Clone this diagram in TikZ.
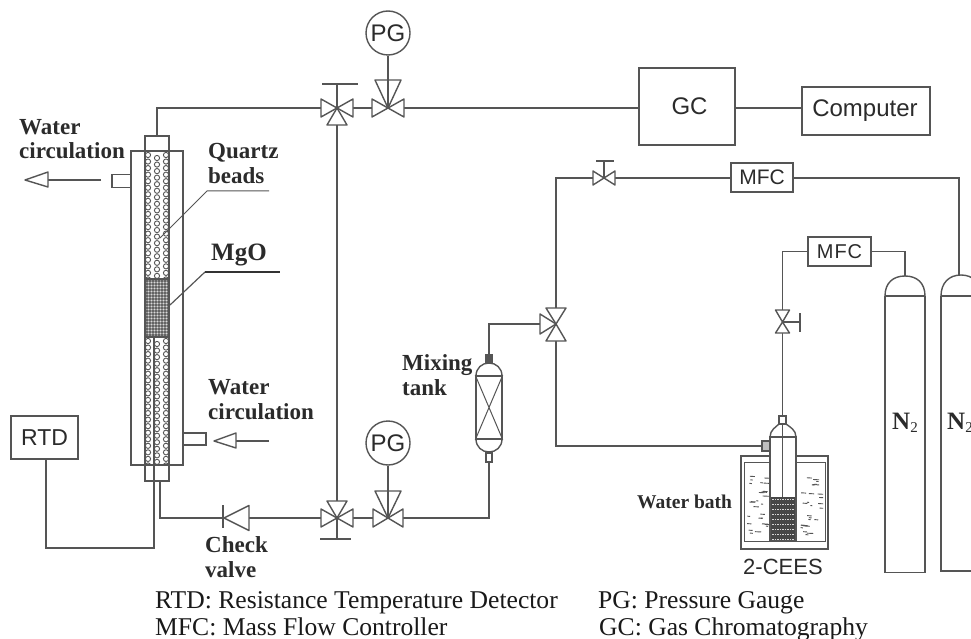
\documentclass[tikz,border=0pt]{standalone}
\usepackage{fontspec}
\setmainfont{Liberation Serif}
\newfontfamily\arialf{Liberation Sans}
\definecolor{ln}{HTML}{555555}
\definecolor{tx}{HTML}{2B2B2B}
\tikzset{
  pipe/.style={draw=ln,line width=1.4pt},
  box/.style={pipe,rectangle,inner sep=0pt,fill=none},
  blabel/.style={inner sep=0pt,text=tx,anchor=base west,align=left,font=\fontsize{23}{24.5}\selectfont\bfseries},
  slabel/.style={inner sep=0pt,text=tx,font=\arialf\fontsize{24}{24}\selectfont},
  legend/.style={inner sep=0pt,text=black!90,anchor=base west,font=\fontsize{25.6}{28}\selectfont},
  gauge/.style={pipe,circle,inner sep=0pt,minimum size=44pt,slabel},
  triang/.style={pipe,fill=white,line join=round},
}
\newcommand{\triH}[3]{\draw[triang] (#1) -- ++(#2,#3) -- ++(0,-2*#3) -- cycle;}
\newcommand{\triV}[3]{\draw[triang] (#1) -- ++(#3,#2) -- ++(-2*#3,0) -- cycle;}
\begin{document}
\begin{tikzpicture}[x=1pt,y=-1pt]
\clip (0,0) rectangle (971,639);
\fill[white] (0,0) rectangle (971,639);
% valve and junction points
\coordinate (v1) at (337,108);
\coordinate (v2) at (388,108);
\coordinate (v3) at (337,518);
\coordinate (v4) at (388,518);
\coordinate (v5) at (556,324);
\coordinate (v6) at (604,178);
\coordinate (v7) at (782.5,322);
\coordinate (ck) at (224,518);
\coordinate (h1) at (337,84);
\coordinate (h3) at (337,539);
\coordinate (h6) at (604,161);
\coordinate (h7) at (800,322);
\coordinate (tcb) at (154,548);
\coordinate (tct) at (154,337);
% boxes
\node[box,minimum width=96,minimum height=77,slabel,draw=ln] (gc) at (687,106.5) {\hspace*{5pt}GC};
\node[box,minimum width=128,minimum height=48,slabel,draw=ln] (comp) at (866,111) {\hspace*{-2pt}Computer};
\node[box,minimum width=67,minimum height=43,slabel,draw=ln,font=\arialf\fontsize{23}{23}\selectfont] (rtd) at (44.5,437.5) {RTD};
\node[box,minimum width=62,minimum height=29,slabel,draw=ln,font=\arialf\fontsize{21}{21}\selectfont] (mfca) at (762,177.5) {MFC};
\node[box,minimum width=63,minimum height=29,slabel,draw=ln,font=\arialf\fontsize{20}{20}\selectfont] (mfcb) at (839.5,251.5) {M\hspace{1pt}F\hspace{1pt}C};
\node[gauge] (pga) at (388,33) {PG};
\node[gauge] (pgb) at (388,443) {PG};
% cylinders
\node[inner sep=0pt,minimum width=40,minimum height=296] (cyla) at (905,424.5) {};
\node[inner sep=0pt,minimum width=40,minimum height=296] (cylb) at (961,423.5) {};
\draw[pipe] (885,296) -- (885,572.5) -- (925,572.5) -- (925,296) (885,296) -- (925,296);
\draw[pipe] (885,296) .. controls (885,283) and (893,276) .. (905,276) .. controls (917,276) and (925,283) .. (925,296);
\draw[pipe] (941,296) -- (941,571) -- (981,571) (941,296) -- (981,296);
\draw[pipe] (941,296) .. controls (941,283) and (949,275) .. (961,275) .. controls (973,275) and (981,283) .. (981,296);
\node[blabel,font=\fontsize{25}{25}\selectfont\bfseries] (n2a) at (892,429) {N{\fontsize{15}{15}\mdseries\selectfont\raisebox{-3pt}{2}}};
\node[blabel,font=\fontsize{25}{25}\selectfont\bfseries] (n2b) at (947,429) {N{\fontsize{15}{15}\mdseries\selectfont\raisebox{-3pt}{2}}};
% reactor contents
\begin{scope}
\clip (145,136) rectangle (169,481);
\foreach \i in {0,...,19}{
  \draw[ln,line width=0.9pt] (148,155+6.55*\i) circle[radius=2.6];
  \draw[ln,line width=0.9pt] (157,158+6.55*\i) circle[radius=2.6];
  \draw[ln,line width=0.9pt] (166,155+6.55*\i) circle[radius=2.6];
}
\foreach \i in {0,...,20}{
  \draw[ln,line width=0.9pt] (148,341+6.55*\i) circle[radius=2.6];
  \draw[ln,line width=0.9pt] (157,344+6.55*\i) circle[radius=2.6];
  \draw[ln,line width=0.9pt] (166,341+6.55*\i) circle[radius=2.6];
}
\fill[black!42] (145,279) rectangle (169,337);
\foreach \i in {0,...,18}{\foreach \j in {0,...,7}{
  \fill[black!80] (147+3*\j,281+3*\i) circle[radius=0.8];
  \fill[white!85!black] (148.5+3*\j,282.5+3*\i) circle[radius=0.7];
}}
\fill[white] (145,465.6) rectangle (169,481);
\end{scope}
\node[box,minimum width=24,minimum height=345] (tube) at (157,308.5) {};
\node[box,minimum width=52,minimum height=314] (jacket) at (157,308) {};
\draw[pipe] (145,279) -- (169,279) (145,337) -- (169,337);
\node[box,minimum width=19,minimum height=12.5] (porta) at (121.5,181) {};
\node[box,minimum width=23,minimum height=12] (portb) at (194.5,439) {};
% water arrows
\coordinate (wa1) at (101,180); \coordinate (wa2) at (48,180);
\coordinate (wb1) at (269,441); \coordinate (wb2) at (236,441);
\draw[pipe] (wa1) -- (wa2);
\draw[pipe] (wb1) -- (wb2);
\draw[triang] (25,180) -- (48,172) -- (48,187) -- cycle;
\draw[triang] (214,441) -- (236,433) -- (236,448) -- cycle;
% leaders
\coordinate (qa) at (160,238); \coordinate (qb) at (207,191); \coordinate (qc) at (269,191);
\coordinate (ma) at (170,305); \coordinate (mb) at (205,272); \coordinate (mc) at (280,272);
\draw[ln,line width=1pt] (qa) -- (qb) -- (qc);
\draw[ln,line width=1.2pt] (ma) -- (mb);
\draw[black!80,line width=1.2pt] (mb) -- (mc);
% mixing tank
\node[box,minimum width=26,minimum height=63] (tank) at (489,407.5) {};
\draw[pipe] (476,376) .. controls (476,368) and (482,363) .. (489,363) .. controls (496,363) and (502,368) .. (502,376);
\draw[pipe] (476,439) .. controls (476,447) and (482,452) .. (489,452) .. controls (496,452) and (502,447) .. (502,439);
\draw[ln,line width=1pt] (tank.north west) -- (tank.south east) (tank.north east) -- (tank.south west);
\node[box,minimum width=6,minimum height=8,fill=ln] (tanktop) at (489,359) {};
\node[box,minimum width=6,minimum height=9] (tankbot) at (489,457.5) {};
% bath
\node[box,minimum width=87,minimum height=93] (bath) at (784.5,502.5) {};
\node[box,minimum width=81,minimum height=79,line width=1pt] (bathin) at (784.5,501.5) {};
\pgfmathsetseed{7}
\begin{scope}
\clip (746,474) rectangle (823,540);
\foreach \k in {1,...,26}{
  \pgfmathsetmacro\ya{476+rnd*62}
  \pgfmathsetmacro\xa{746+rnd*20}
  \pgfmathsetmacro\xb{800+rnd*20}
  \pgfmathsetmacro\ll{1.5+rnd*5}
  \draw[ln,line width=0.9pt] (\xa,\ya) -- ++(\ll,0.3);
  \draw[ln,line width=0.9pt] (\xb,\ya+1.5) -- ++(\ll,0.3);
}
\end{scope}
% bubbler
\fill[white] (770,433) rectangle (796,541);
\fill[black!72] (770,497) rectangle (796,541);
\foreach \i in {0,...,8}{\foreach \j in {0,...,9}{
  \fill[white!85!black] (772+2.5*\j,498.5+5*\i) rectangle ++(1.5,1.6);
}}
\node[box,minimum width=26,minimum height=104] (bub) at (783,489) {};
\draw[pipe] (770,437) -- (796,437);
\draw[pipe] (770,437) .. controls (770,430) and (776,427) .. (779,424) -- (786,424) .. controls (790,427) and (796,430) .. (796,437);
\node[box,minimum width=7,minimum height=8] (bubtop) at (782.5,420) {};
\node[box,minimum width=8,minimum height=10,fill=black!25] (bubside) at (766,446) {};
\coordinate (dip) at (782.5,497);
\draw[ln,line width=1pt] (bubtop.south) -- (dip);
% connectors
\draw[pipe] (tube.north) |- (v1);
\draw[pipe] (v1) -- (v2) -- (v2 -| gc.west);
\draw[pipe] (v2 -| gc.east) -- (v2 -| comp.west);
\draw[pipe] (h1) -- (v3);
\draw[pipe] (v3) -- (h3);
\draw[pipe] (ck) -- (v3) -- (v4);
\draw[pipe] ([xshift=3pt]tube.south) |- (ck);
\draw[pipe] ([xshift=1.5pt]rtd.south) |- (tcb) -- (tct);
\draw[pipe] (v4) -| (tankbot.south);
\draw[pipe] (tanktop.north) |- (v5);
\draw[pipe] (v5) |- (v6);
\draw[pipe] (v6) -- (v6 -| mfca.west);
\draw[pipe] (v6 -| mfca.east) -| (959,276);
\draw[pipe] (v5) |- (bubside.west);
\draw[pipe] (bubtop.north) -- (v7);
\draw[pipe] (v7) |- (mfcb.west);
\draw[pipe] (mfcb.east) -| (cyla.north);
% handles
\draw[pipe] (322,84) -- (358,84) (320,539) -- (351,539) (596,161) -- (614,161) (800,313) -- (800,332);
% valves
\triH{v1}{-16}{9}\triH{v1}{16}{9}\triV{v1}{17}{10}
\triH{v2}{-16}{9}\triH{v2}{16}{9}\triV{v2}{-28}{13}
\triH{v3}{-16}{9}\triH{v3}{16}{9}\triV{v3}{-17}{10}
\triH{v4}{-15}{9}\triH{v4}{15}{9}\triV{v4}{-27}{13}
\triH{v5}{-16}{10}\triV{v5}{-16}{10}\triV{v5}{17}{10}
\triH{v6}{-11}{7}\triH{v6}{11}{7}
\triV{v7}{-12}{7}\triV{v7}{11}{7}
\draw[pipe] (v1) -- (h1);
\draw[pipe] (v6) -- (h6);
\draw[pipe] (v7) -- (h7);
\draw[pipe] (v3) -- (h3);
\draw[pipe] (pga.south) -- (v2);
\draw[pipe] (pgb.south) -- (v4);
\triH{ck}{25}{12.5}
\draw[pipe] (223,505) -- (223,528);
% labels
\node[blabel] (t1) at (19,159) {Water\\circulation};
\node[blabel] (t2) at (208,183) {Quartz\\beads};
\node[blabel,font=\fontsize{25}{25}\selectfont\bfseries] (t3) at (211,260) {MgO};
\node[blabel] (t4) at (208,419) {Water\\circulation};
\node[blabel] (t5) at (205,577) {Check\\valve};
\node[blabel] (t6) at (402,395) {Mixing\\tank};
\node[blabel,font=\fontsize{19.5}{22}\selectfont\bfseries] (t7) at (637,508) {Water bath};
\node[slabel,anchor=base west,font=\arialf\fontsize{22}{22}\selectfont] (t8) at (743,574) {2-CEES};
\node[legend] (l1) at (155,608) {RTD: Resistance Temperature Detector};
\node[legend] (l2) at (155,635) {MFC: Mass Flow Controller};
\node[legend] (l3) at (598,608) {PG: Pressure Gauge};
\node[legend] (l4) at (599,635) {GC: Gas Chromatography};
\end{tikzpicture}
\end{document}
